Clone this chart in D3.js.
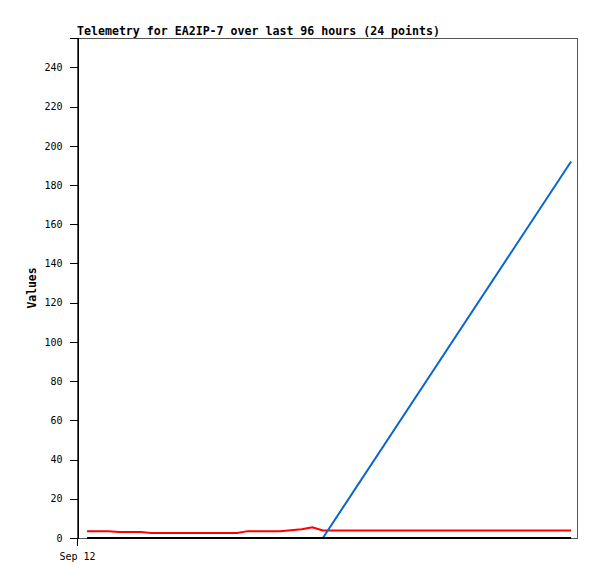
<!DOCTYPE html>
<html>
<head>
<meta charset="utf-8">
<script src="https://cdn.jsdelivr.net/npm/d3@7"></script>
<style>
  html, body { margin: 0; padding: 0; background: #fff; }
  svg { display: block; }
</style>
</head>
<body>
<svg id="chart" width="597" height="579"></svg>
<script>
// ---- data ----
const title = "Telemetry for EA2IP-7 over last 96 hours (24 points)";
const yLabel = "Values";
const times = ["00:29","01:00","01:31","02:01","02:32","03:04","03:34","04:05","04:36","05:07",
               "05:38","06:09","06:40","07:11","07:41","08:12","08:43","09:14","09:45","10:16",
               "10:47","11:18","11:48","23:43"];
const redValues   = [3.5,3.5,3.5,3.0,3.0,3.0,2.5,2.5,2.5,2.5,
                     2.5,2.5,2.5,2.5,2.5,3.5,3.5,3.5,3.5,4.0,
                     4.5,5.5,3.8,3.8];
const blueValues  = [0,0,0,0,0,0,0,0,0,0,
                     0,0,0,0,0,0,0,0,0,0,
                     0,0,0,192];
const blackValues = [0,0,0,0,0,0,0,0,0,0,
                     0,0,0,0,0,0,0,0,0,0,
                     0,0,0,0];
const yTicks = [0,20,40,60,80,100,120,140,160,180,200,220,240];
const xDomain = ["2023-09-12T00:00", "2023-09-13T00:00"];
const xTickValues = ["2023-09-12T00:00"];

// ---- layout ----
const svg = d3.select("#chart");
const L = 77, R = 577, T = 38, B = 538;
const parseT = d3.timeParse("%Y-%m-%dT%H:%M");
const dates = times.map(t => parseT("2023-09-12T" + t));

const x = d3.scaleTime().domain(xDomain.map(parseT)).range([L, R]);
const y = d3.scaleLinear().domain([0, 255]).range([B, T]);

const mono = "'DejaVu Sans Mono', 'Liberation Mono', monospace";

// frame
svg.append("rect")
  .attr("x", L + 0.5).attr("y", T + 0.5)
  .attr("width", R - L).attr("height", B - T)
  .attr("fill", "none").attr("stroke", "#555").attr("stroke-width", 1)
  .attr("shape-rendering", "crispEdges");

// y axis
const yAxis = d3.axisLeft(y).tickValues(yTicks).tickSize(8).tickPadding(7);
const gy = svg.append("g").attr("transform", `translate(${L + 0.5},0)`).call(yAxis);
gy.select(".domain").attr("stroke", "#000").attr("shape-rendering", "crispEdges");
gy.selectAll(".tick line").attr("stroke", "#000").attr("shape-rendering", "crispEdges");
gy.selectAll(".tick text").attr("font-family", mono).attr("font-size", "10px").attr("fill", "#000");

// x axis
const xAxis = d3.axisBottom(x).tickValues(xTickValues.map(parseT))
  .tickFormat(d3.timeFormat("%b %d")).tickSize(7).tickPadding(7);
const gx = svg.append("g").attr("transform", `translate(0,${B + 0.5})`).call(xAxis);
gx.select(".domain").remove();
gx.selectAll(".tick line").attr("stroke", "#000").attr("shape-rendering", "crispEdges");
gx.selectAll(".tick text").attr("font-family", mono).attr("font-size", "10px").attr("fill", "#000");

// lines
const line = d3.line().defined(d => d[1] != null).x(d => x(d[0])).y(d => y(d[1]));
function series(vals) { return vals.map((v, i) => [dates[i], v]); }

svg.append("path").datum(series(redValues))
  .attr("d", line).attr("fill", "none").attr("stroke", "#ff0000").attr("stroke-width", 2);
svg.append("path").datum(series(blueValues))
  .attr("d", line).attr("fill", "none").attr("stroke", "#0a66cc").attr("stroke-width", 2);
svg.append("path").datum(series(blackValues))
  .attr("d", line).attr("fill", "none").attr("stroke", "#000").attr("stroke-width", 2);

// title
svg.append("text").attr("x", L).attr("y", 35)
  .attr("font-family", mono).attr("font-weight", "bold").attr("font-size", "11.6px")
  .attr("fill", "#000").text(title);

// y label
svg.append("text")
  .attr("transform", `translate(36,${(T + B) / 2}) rotate(-90)`)
  .attr("text-anchor", "middle")
  .attr("font-family", mono).attr("font-weight", "bold").attr("font-size", "11.4px")
  .attr("fill", "#000").text(yLabel);
</script>
</body>
</html>
